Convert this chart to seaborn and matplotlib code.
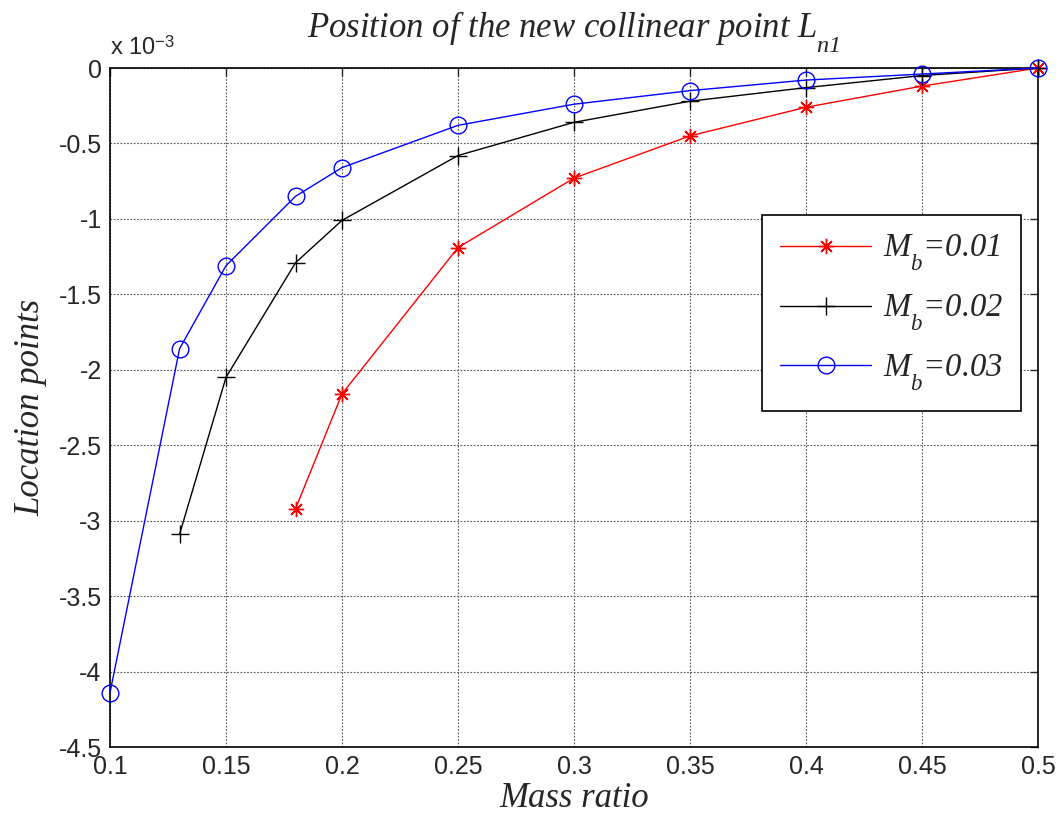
import numpy as np
import pandas as pd
import matplotlib
matplotlib.use("Agg")
import matplotlib.pyplot as plt
import matplotlib._mathtext as _mt
import seaborn as sns
from matplotlib.ticker import FixedLocator, FuncFormatter

# ---- data (values in units of 1e-3) ----
x_red = [0.18, 0.20, 0.25, 0.30, 0.35, 0.40, 0.45, 0.50]
y_red = [-2.92, -2.16, -1.19, -0.73, -0.45, -0.26, -0.12, 0.0]

x_black = [0.13, 0.15, 0.18, 0.20, 0.25, 0.30, 0.35, 0.40, 0.45, 0.50]
y_black = [-3.09, -2.05, -1.29, -1.01, -0.58, -0.36, -0.22, -0.13, -0.05, 0.0]

x_blue = [0.10, 0.13, 0.15, 0.18, 0.20, 0.25, 0.30, 0.35, 0.40, 0.45, 0.50]
y_blue = [-4.14, -1.86, -1.31, -0.85, -0.66, -0.38, -0.24, -0.15, -0.08, -0.04, 0.0]

labels = ["0.01", "0.02", "0.03"]
x_ticks = [0.1, 0.15, 0.2, 0.25, 0.3, 0.35, 0.4, 0.45, 0.5]
y_ticks = [0, -0.5, -1, -1.5, -2, -2.5, -3, -3.5, -4, -4.5]

# deeper subscripts (MATLAB-like)
_mt.FontConstantsBase.sub1 = 0.9
_mt.FontConstantsBase.sub2 = 1.0

sns.set_style("white")
plt.rcParams["font.family"] = ["Liberation Sans", "DejaVu Sans"]
plt.rcParams["mathtext.fontset"] = "custom"
plt.rcParams["mathtext.it"] = "Liberation Serif:italic"
plt.rcParams["mathtext.rm"] = "Liberation Serif:italic"
plt.rcParams["axes.unicode_minus"] = False

fig = plt.figure(figsize=(10.63, 8.27), dpi=100)
ax = fig.add_axes([110/1063, 80/827, 928/1063, 679/827])

series = [
    (x_red, y_red, "red", (8, 2, 0), 11, labels[0]),
    (x_black, y_black, "black", "+", 13, labels[1]),
    (x_blue, y_blue, "blue", "o", 12, labels[2]),
]
for xs, ys, col, mk, ms, lab in series:
    sns.lineplot(x=np.array(xs), y=np.array(ys) * 1e-3, ax=ax, color=col,
                 marker=mk, markersize=ms, markerfacecolor="none",
                 markeredgecolor=col, markeredgewidth=1.0, linewidth=1.0,
                 label=r"$M_b$=" + lab, sort=False, clip_on=False, zorder=3)

ax.set_xlim(0.1, 0.5)
ax.set_ylim(-4.5e-3, 0)
ax.xaxis.set_major_locator(FixedLocator(x_ticks))
ax.yaxis.set_major_locator(FixedLocator([v * 1e-3 for v in y_ticks]))
ax.xaxis.set_major_formatter(FuncFormatter(lambda v, p: f"{v:g}"))
ax.yaxis.set_major_formatter(FuncFormatter(lambda v, p: f"{round(v*1e3, 2):g}"))
ax.tick_params(direction="in", length=6, width=1, labelsize=18, top=True, right=True,
               labeltop=False, labelright=False, pad=6)
for s in ax.spines.values():
    s.set_visible(True)
    s.set_color("black")
    s.set_linewidth(1.2)
ax.grid(True, linestyle=(0, (1.5, 1.5)), color="#555555", linewidth=0.8)

serif_it = dict(family="Liberation Serif", style="italic")
ax.set_title(r"Position of the new collinear point $L_{n1}$", fontsize=25, pad=22, **serif_it)
ax.set_xlabel("Mass ratio", fontsize=25, labelpad=2, **serif_it)
ax.set_ylabel("Location points", fontsize=25, labelpad=8, **serif_it)
fig.text(110/1063, 1 - 55/827, r"x 10$^{\mathregular{-3}}$", fontsize=17, ha="left", va="baseline")

leg = ax.legend(loc="upper left", bbox_to_anchor=((762 - 110) / 928, 1 - (215 - 68) / 679),
                frameon=True, fancybox=False, edgecolor="black",
                handlelength=2.8, labelspacing=0.6, borderpad=0.55, handletextpad=0.35,
                borderaxespad=0,
                prop=dict(family="Liberation Serif", style="italic", size=23.5))
leg.get_frame().set_linewidth(1.2)
leg.get_frame().set_alpha(1)

fig.savefig("out.png", dpi=100)
